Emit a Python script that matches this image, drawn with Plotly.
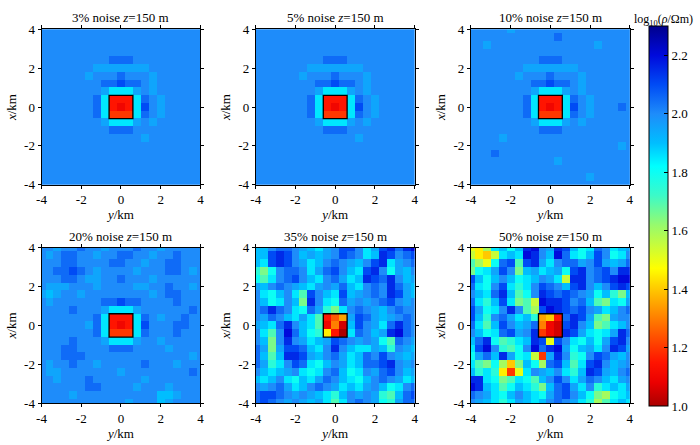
import plotly.graph_objects as go
from plotly.subplots import make_subplots

# cell centres in km: horizontal axis is y, vertical axis is x (rows listed top -> bottom)
Y_KM = [-4.0, -3.6, -3.2, -2.8, -2.4, -2.0, -1.6, -1.2, -0.8, -0.4, 0.0,
        0.4, 0.8, 1.2, 1.6, 2.0, 2.4, 2.8, 3.2, 3.6, 4.0]
X_KM = [4.0, 3.6, 3.2, 2.8, 2.4, 2.0, 1.6, 1.2, 0.8, 0.4, 0.0,
        -0.4, -0.8, -1.2, -1.6, -2.0, -2.4, -2.8, -3.2, -3.6, -4.0]

# one character per cell -> log10(rho) value
LEVEL_CODES = "0123456789ABCDEFGHIJKLMNOPQ"
LEVEL_VALUES = [1.00, 1.05, 1.10, 1.15, 1.20, 1.25, 1.30, 1.35, 1.40, 1.45,
                1.50, 1.55, 1.60, 1.65, 1.70, 1.75, 1.80, 1.85, 1.90, 1.95,
                2.00, 2.05, 2.10, 2.15, 2.20, 2.25, 2.30]

NOISE_LABELS = ["3%", "5%", "10%", "20%", "35%", "50%"]
DEPTH_LABEL = "150 m"
BLOCK_HALF_KM = 0.6

noise_03 = [
    "KKKKKKKKKKKKKKKKKKKKK",
    "KKKKKKKKKKKKKKKKKKKKK",
    "KKKKKKKKKKKKKKKKKKKKK",
    "KKKKKKKKKKKKKKKKKKKKK",
    "KKKKKKKKKLLLKKKKKKKKK",
    "KKKKKKKJJJJJJJKKKKKKK",
    "KKKKKKJKKKLKKKJKKKKKK",
    "KKKKKKKKLLMLLKJKKKKKK",
    "KKKKKKKKJHHHJKJKKKKKK",
    "KKKKKKKLH333HLKJKKKKK",
    "KKKKKKKLH323HMKJKKKKK",
    "KKKKKKKLH444HLKJKKKKK",
    "KKKKKKKKJHHHJKJKKKKKK",
    "KKKKKKKKKLLLKKKKKKKKK",
    "KKKKKKKKKKKKKJKKKKKKK",
    "KKKKKKKKKKKKKKKKKKKKK",
    "KKKKKKKKKKKKKKKKKKKKK",
    "KKKKKKKKKKKKKKKKKKKKK",
    "KKKKKKKKKKKKKKKKKKKKK",
    "KKKKKKKKKKKKKKKKKKKKK",
    "KKKKKKKKKKKKKKKKKKKKK",
]

noise_05 = [
    "KKKKKKKKKKKKKKKKKKKKK",
    "KKKKKKKKKKKKKKKKKKKKK",
    "KKKKKKKKKKKKKKKKKKKKK",
    "KKKKKKKKKKKKKKKKKKKKK",
    "KKKKKKKKKLLLKKKKKKKKK",
    "KKKKKKKJJJJJJJKKKKKKK",
    "KKKKKKJKKKLKKKJKKKKKK",
    "KKKKKKKKLLMLLKJKKKKKK",
    "KKKKKKKKJHHHJKJKKKKKK",
    "KKKKKKKLH333HLKJKKKKK",
    "KKKKKKKLH323HMKJKKKKK",
    "KKKKKKKLH444HLKJKKKKK",
    "KKKKKKKKJHHHJKJKKKKKK",
    "KKKKKKKKKLLLKKKKKKKKK",
    "KKKKKKKKKKKKKJKKKKKKK",
    "KKKKKKKKKKKKKKKKKKKKK",
    "KKKKKKKKKKKKKKKKKKKKK",
    "KKKKKKKKKKKKKKKKKKKKK",
    "KKKKKKKKKKKKKKKKKKKKK",
    "KKKKKKKKKKKKKKKKKKKKK",
    "KKKKKKKKKKKKKKKKKKKKK",
]

noise_10 = [
    "KKKKKJKKKKKKKKKKKKKKK",
    "KKKKKKKKKKKLKKKKKKKKK",
    "KKJKKKKKKKKKKKKKJKKKK",
    "KKKKKKKKKKKKKKKKKKKKK",
    "KKKKKKKKKLLLKKKKKKKKK",
    "KKKKKKKJJJJJJJKKKKKKK",
    "KKKKKKJKKKLKKKJKKKKKK",
    "KKKKKKKKLLMLLKJKKKKKK",
    "KKKKKKKKJHHHJKJKKKKKK",
    "KKKKKKKLH333HLKJKKKKK",
    "KKKKKKKLH323HMKJKKKLK",
    "KKKKKKKLH444HLKJKKKKK",
    "KKKKKKKKJHHHJKJKKKKKK",
    "KKKKKKKKKLLLKKKKKKKKK",
    "KKKKJKKKKKKKKKKKKKKKK",
    "KKKKKKKKKKKKKKKKKKKJK",
    "KKKLKKKKKKKKKKKKKKKKK",
    "KKKKKKKKKKKJKKKKKKKKK",
    "KKKKKKKKKKKKKKKKKKKKK",
    "KKKKKKKKKKKKKKKJKKKKK",
    "KKKKKKKKKKKKKKKKKKKKK",
]

noise_20 = [
    "KKJKKLKKJKKKLKKJKKKKK",
    "KJKLLKKJKKLLKKJKKLKKK",
    "KKKLLKKKKLLKKJKKLLKKK",
    "KKLLMLKJKKKKJKKKLLKJK",
    "KKKLLKJJKKLKKKJKKKKKK",
    "KJJJKKKJKKKKJJKKLKKJK",
    "JIJKKJKKKKKKKKJKLLKKK",
    "KJKKKKKKLLMLLKKKKLKKK",
    "KKKKLKKKJHHHJKKKKKKLK",
    "KKKKKKKLH333HLKJKKLKK",
    "KKKKKKJLH323HMKKKLLKK",
    "KKKKKKKLH444HLKKKLKKK",
    "KKKKLKKKJHHHJKKJKKKKK",
    "KKKLLKKKKLLLKKKKJKKKK",
    "KKKLLLKKKKKKKKKKKKKJK",
    "KJKKLKKJKKKKKLKKKJKKK",
    "KJJKKKKKKKJKKKKKKKKLK",
    "KKJKKKLKKKKKKJKKKKKKK",
    "KKKKKKLLKKKKJKKKJKKKK",
    "KKKKJKKKKKKKKKKIIJKKK",
    "KKKKKKKKKKKJKKKIJKKKK",
]

noise_35 = [
    "IIKLLKJIHJKMMKHJMNLNO",
    "IIMNMKIJIJKMLKHINMKLM",
    "IHMNMKJHIKLKJIKMNHJKL",
    "FDGKLLKHJLMKIHMNKGJIK",
    "GEHKLMKIHKLJHINMLNKIJ",
    "JIKLKJIHJKJLIHKLKNLJI",
    "KHGIKHEMKIHMIJKLKNMJI",
    "KIGHKIDNKHGLJKJKLMKJK",
    "KLNLKHGLJFDHKLKJIKLKK",
    "KJLKIHJHE357JMLJIJKLK",
    "JIHLNKIHE261IMKJHLNLK",
    "KHEKOLIGF930HLKIJNOLK",
    "KIDKNKJHIJMLKJKJGELKJ",
    "LJDJMMLIHKNKIHHJIFKJI",
    "LIEINNMJIKLJHILKMKJIJ",
    "LJFHKMLHGIKJHILLMNKJK",
    "KIHIJKHGHKLIGHKJLMKIJ",
    "IHIKHGIHJLKIHGIKLKJHI",
    "KJKLJHIKLKJHIHJKIGHKL",
    "LMMLKJKJIHFIKJKJFEILM",
    "LMLKJKJIJHEHKLKJGFJLL",
]

noise_50 = [
    "A9CHIGINOKJNMIGHLKHIJ",
    "B98BHIHONKIOLHGIMKGHK",
    "ECAGLMEMNJHKLLJKMJIJL",
    "DGHJMKDIJHIJGMNKLMKNN",
    "MIGIKIGHIKJHBNNKLMNOO",
    "LHGKMHFHKMLKIMNKIKMNM",
    "KIHLNIEGKNMLMLKJGIFDI",
    "LHFIMHDEBONNMKLIEDHGJ",
    "MJGHKNKECMONMLMKJHIKL",
    "MIFKLJHIF783LNMJEDJKK",
    "LHEIMKIJL621MNKIDEHIK",
    "KIGHLMJKN421NMJHGHJNL",
    "ILNGEFHINMAMKHGIGJMNK",
    "HMOKFEGKOLNOJGIJHKNMJ",
    "GJLINJGHB4JNKFGKMLJIK",
    "HEDGC8DIGCLMIEHMNKIJK",
    "IFHF94AHKJIKHFINMJIKL",
    "NNHGDEHGEIKMKHJLKIHJK",
    "ONIHEGIHFDILMJHKFHIHJ",
    "LKJHGIKIHGJLMKIGDCGHI",
    "KJIHFHJIHIKLKJHFCEHIH",
]

PANELS = [noise_03, noise_05, noise_10, noise_20, noise_35, noise_50]

TICK_VALS = [-4, -2, 0, 2, 4]
TICK_LABELS = ["-4", "-2", "0", "2", "4"]
CB_TICK_VALS = [1.0, 1.2, 1.4, 1.6, 1.8, 2.0, 2.2]
CB_TICK_LABELS = ["1.0", "1.2", "1.4", "1.6", "1.8", "2.0", "2.2"]
Z_MIN, Z_MAX = 1.0, 2.3


def decode(rows):
    grid = []
    for row in rows:
        assert len(row) == len(Y_KM), row
        grid.append([LEVEL_VALUES[LEVEL_CODES.index(ch)] for ch in row])
    return grid


# reversed jet-like map used by the figure (red = conductive)
colorscale = [
    [0.000, "rgb(170,0,0)"],
    [0.062, "rgb(235,0,0)"],
    [0.115, "rgb(255,20,0)"],
    [0.192, "rgb(255,90,0)"],
    [0.292, "rgb(255,185,0)"],
    [0.362, "rgb(255,255,0)"],
    [0.477, "rgb(150,250,110)"],
    [0.554, "rgb(60,250,200)"],
    [0.631, "rgb(0,255,255)"],
    [0.692, "rgb(0,190,255)"],
    [0.769, "rgb(30,140,250)"],
    [0.846, "rgb(0,75,245)"],
    [0.923, "rgb(0,10,220)"],
    [1.000, "rgb(0,0,140)"],
]

W, H = 700, 445
col_px = [(37, 198), (254, 415), (472, 633)]
row_px = [(23, 184), (249, 410)]
FONT = "Liberation Serif"
text_font = dict(family=FONT, size=13, color="black")

fig = make_subplots(rows=2, cols=3)

for k, rows in enumerate(PANELS):
    r, c = k // 3 + 1, k % 3 + 1
    fig.add_trace(go.Heatmap(
        x=Y_KM, y=X_KM, z=decode(rows),
        coloraxis="coloraxis", hoverinfo="skip",
    ), row=r, col=c)

    x0, x1 = col_px[c - 1]
    y0, y1 = row_px[r - 1]
    fig.update_xaxes(domain=[x0 / W, x1 / W], row=r, col=c)
    fig.update_yaxes(domain=[1 - y1 / H, 1 - y0 / H], row=r, col=c)

    fig.add_shape(type="rect", x0=-BLOCK_HALF_KM, x1=BLOCK_HALF_KM,
                  y0=-BLOCK_HALF_KM, y1=BLOCK_HALF_KM,
                  line=dict(color="black", width=1.3), row=r, col=c)

    fig.add_annotation(
        x=(x0 + x1) / 2 / W, y=1 - y0 / H, xref="paper", yref="paper",
        xanchor="center", yanchor="bottom", yshift=2, showarrow=False,
        text=f"{NOISE_LABELS[k]} noise <i>z</i>={DEPTH_LABEL}",
        font=text_font,
    )

axis_style = dict(
    range=[-4, 4], tickvals=TICK_VALS, ticktext=TICK_LABELS,
    ticks="outside", ticklen=3, tickcolor="black", tickwidth=1,
    showline=True, linecolor="black", linewidth=1, mirror="ticks",
    showgrid=False, zeroline=False,
    tickfont=text_font,
)
fig.update_xaxes(**axis_style)
fig.update_yaxes(**axis_style)
fig.update_xaxes(title_text="<i>y</i>/km", title_standoff=2, title_font=text_font)
fig.update_yaxes(title_text="<i>x</i>/km", title_standoff=4, title_font=text_font)

fig.add_annotation(
    x=667 / W, y=1 - 3 / H, xref="paper", yref="paper", xanchor="center",
    yanchor="top", showarrow=False,
    text="log<sub>10</sub>(<i>ρ</i>/Ωm)",
    font=dict(family=FONT, size=12, color="black"),
)

fig.update_layout(
    width=W, height=H,
    margin=dict(l=0, r=0, t=0, b=0),
    font=text_font,
    paper_bgcolor="white", plot_bgcolor="white",
    showlegend=False,
    coloraxis=dict(
        cmin=Z_MIN, cmax=Z_MAX, colorscale=colorscale,
        colorbar=dict(
            x=652 / W, xanchor="left", xpad=0,
            y=1 - 216.5 / H, yanchor="middle", ypad=0,
            len=393 / H, lenmode="fraction",
            thickness=19, thicknessmode="pixels",
            outlinewidth=1, outlinecolor="black",
            tickvals=CB_TICK_VALS, ticktext=CB_TICK_LABELS,
            ticks="inside", ticklen=4, tickcolor="black",
            tickfont=text_font,
        ),
    ),
)

# the page body keeps its default 8px margin otherwise
fig.write_html("out.html", config={"displayModeBar": False},
               post_script="document.body.style.margin='0px';")
